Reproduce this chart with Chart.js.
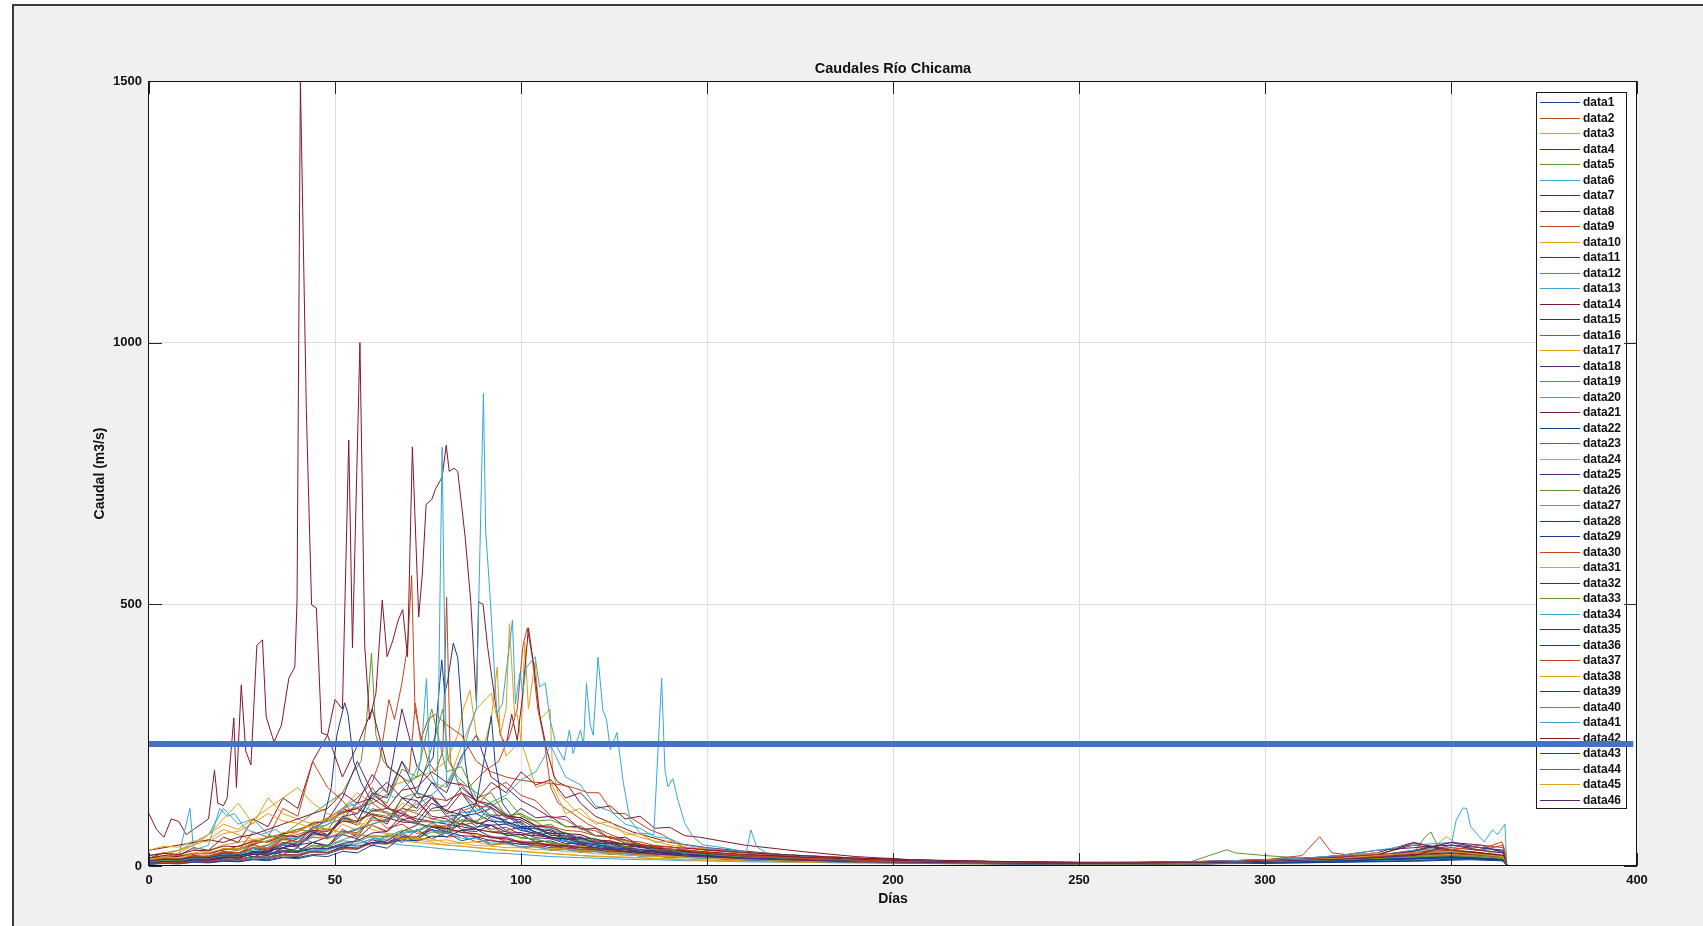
<!DOCTYPE html>
<html lang="es">
<head>
<meta charset="UTF-8">
<title>Caudales Río Chicama</title>
<script src="https://cdn.jsdelivr.net/npm/chart.js@4.4.0/dist/chart.umd.min.js"></script>
<style>
  html, body { margin: 0; padding: 0; background: #fff; width: 1703px; height: 926px; overflow: hidden; }
  .figura { position: absolute; left: 12px; top: 4px; right: 0; bottom: 0; background: #f0f0f0; border-left: 2px solid #3a3a3a; border-top: 2px solid #3a3a3a; }
  #grafico { position: absolute; left: 0; top: 0; }
</style>
</head>
<body>
<div class="figura"></div>
<canvas id="grafico" width="1703" height="926"></canvas>
<script>
const titulo = 'Caudales Río Chicama';
const tituloX = 'Días';
const tituloY = 'Caudal (m3/s)';
const xTicks = [0, 50, 100, 150, 200, 250, 300, 350, 400];
const yTicks = [0, 500, 1000, 1500];
const umbral = 233;

// rejilla de días para las series leídas con menos detalle
const diasLluvia = [0,4,8,12,16,20,24,28,32,36,40,44,48,52,56,60,64,68,72,76,80,84,88,92,96,100,104,108,112,116,120,124,128,132,136,140,144,148];
const diasSeco = [160,175,190,205,220,235,250,265,280,290,300,310,320,330,340,350,358,364,365];
const dias = diasLluvia.concat(diasSeco);

// series con picos grandes: pares [día, caudal]
const d2 = [[0,5],[4,8],[8,10],[12,14],[16,18],[20,20],[24,25],[28,35],[32,40],[36,55],[40,60],[44,70],[48,90],[52,110],[56,130],[60,160],[62,200],[64.5,318],[66,280],[68,350],[69.5,420],[70.6,555],[71.5,300],[73,250],[75,200],[77,180],[79,220],[80,514],[81,200],[83,160],[86,150],[90,180],[94,200],[97,250],[99,300],[100.5,420],[101.7,455],[103,400],[104.5,300],[106,250],[108,150],[110,120],[114,100],[118,80],[124,60],[130,45],[140,30],[150,22],[170,15],[200,9],[240,6],[280,5],[300,8],[320,12],[340,15],[355,25],[363.7,46],[364.5,30],[365,0]];
const d3 = [[0,10],[4,15],[8,20],[12,25],[16,30],[20,40],[24,45],[28,50],[32,55],[36,60],[40,70],[44,80],[48,90],[52,100],[56,110],[60,130],[64,150],[68,160],[72,170],[76,180],[80,200],[83,250],[84.5,300],[86.3,336],[88,250],[90,230],[92,280],[93.6,380],[94.4,250],[96,300],[96.9,463],[98.3,285],[99,290],[100,240],[101,427],[102,300],[103.8,390],[105,280],[106.5,290],[107.8,300],[108.5,180],[110,140],[114,110],[118,90],[122,80],[126,70],[132,55],[140,40],[150,30],[170,20],[200,12],[240,7],[280,6],[290,8],[300,10],[320,15],[340,20],[345,35],[348.8,56],[352,40],[358,30],[364,20],[365,0]];
const d5 = [[0,5],[4,8],[8,10],[12,12],[16,15],[20,20],[24,25],[28,30],[32,40],[36,60],[40,80],[44,100],[48,120],[52,140],[55,180],[57,200],[58.4,270],[59.8,407],[61,250],[63,200],[66,180],[70,160],[74,180],[77,250],[79,300],[80.5,200],[83,170],[86,150],[90,130],[94,110],[98,90],[102,75],[108,60],[114,50],[120,40],[130,30],[140,24],[150,18],[170,13],[190,12],[200,15],[205,10],[240,6],[280,8],[285,20],[289.7,31],[292,25],[300,20],[310,15],[320,12],[330,15],[340,25],[343,55],[344.6,65],[347,30],[352,20],[360,15],[364,12],[365,0]];
const d7 = [[0,100],[2,70],[4,55],[6,90],[8,85],[10,60],[12,70],[14,80],[16,90],[17.6,183],[18.5,120],[20,115],[21,130],[22.8,283],[23.5,150],[24.8,346],[26,220],[27.4,193],[29,422],[30.5,432],[31.5,285],[33.6,237],[35.6,269],[37.6,359],[39.2,380],[39.8,508],[40.7,1500],[42.3,870],[43.7,499],[45,493],[46.4,254],[48,250],[50,318],[52,300],[53.7,814],[54.7,417],[56.7,1000],[58,420],[59.3,280],[61,330],[62.7,508],[64,400],[65.5,430],[67,470],[68.2,490],[69.5,400],[70.8,801],[72.5,476],[73.5,560],[74.5,691],[76,700],[77,720],[78.8,743],[79.9,804],[80.7,754],[82,760],[83,754],[85,628],[86.5,505],[88,313],[88.6,505],[89.8,500],[91,420],[93,317],[94.5,250],[96,230],[97.5,290],[99,240],[100.5,330],[102,455],[103.5,380],[105,290],[107,220],[109,170],[110,160],[113,150],[116,120],[120,95],[125,80],[130,65],[140,45],[150,35],[170,22],[200,12],[230,8],[260,6],[290,8],[310,12],[330,15],[340,20],[350,18],[360,12],[364,10],[365,0]];
const d8 = [[0,6],[4,8],[8,10],[12,12],[16,15],[20,18],[24,22],[28,25],[32,30],[36,35],[40,40],[44,45],[48,55],[52,60],[56,70],[60,80],[64,90],[68,110],[72,140],[74,180],[76.4,208],[78.7,394],[79.5,330],[80.3,354],[81.8,426],[83,398],[84,300],[85,200],[86,150],[88,120],[90,100],[94,90],[98,80],[102,70],[106,60],[110,50],[116,40],[122,32],[130,25],[140,20],[150,16],[170,12],[200,8],[240,5],[280,4],[300,6],[320,8],[340,10],[355,14],[364,12],[365,0]];
const d9 = [[0,15],[5,18],[10,20],[15,25],[20,30],[25,40],[30,50],[35,60],[40,70],[45,80],[50,100],[55,110],[60,120],[65,140],[68,200],[70,180],[71.6,311],[73,240],[75,280],[77,290],[80,270],[84,250],[88,200],[92,180],[96,170],[100,164],[104,160],[108,158],[110.8,155],[114,150],[118,140],[121,140],[124.8,101],[128,100],[130,90],[134.7,69],[138,60],[143.5,36],[150,30],[160,25],[180,18],[200,12],[230,8],[260,6],[290,10],[300,12],[310,20],[314.7,56],[318,25],[330,15],[340,18],[350,20],[360,15],[364,12],[365,0]];
const d15 = [[0,4],[4,6],[8,8],[12,10],[16,12],[20,15],[24,18],[28,22],[32,28],[36,35],[40,45],[44,60],[47,90],[49,150],[50.5,250],[52.6,312],[53.5,290],[55,200],[57,160],[60,120],[64,100],[68,90],[72,80],[76,75],[80,70],[84,80],[88,120],[90,200],[92,287],[93,200],[95,120],[98,90],[102,70],[108,55],[114,45],[120,38],[130,28],[140,22],[150,17],[170,12],[200,8],[240,5],[280,4],[300,5],[320,7],[340,9],[355,12],[364,10],[365,0]];
const d20 = [[0,10],[4,15],[8,20],[11,110],[12,30],[16,40],[19,110],[21,95],[23,100],[26,70],[30,60],[34,70],[38,50],[42,60],[46,80],[50,90],[54,120],[58,100],[62,150],[66,130],[70,160],[73,200],[74.6,359],[75.5,180],[77.5,150],[78.8,800],[80,150],[82,180],[84,140],[88,110],[92,90],[96,80],[100,70],[105,60],[110,50],[120,40],[130,30],[140,25],[150,20],[170,14],[200,10],[240,6],[280,5],[300,8],[320,10],[340,14],[355,20],[364,15],[365,0]];
const d27 = [[0,8],[5,10],[10,12],[15,15],[20,20],[25,25],[30,30],[35,40],[40,45],[45,60],[50,55],[55,70],[60,80],[65,90],[70,110],[75,130],[80,160],[84,200],[86,260],[88,300],[89.9,903],[90.5,640],[91.7,515],[93.5,292],[95,310],[97.7,470],[98.5,310],[99.7,369],[100.5,330],[101.3,378],[103.8,400],[105,342],[106.5,350],[107.8,280],[109.5,230],[111.6,202],[113,260],[114,215],[116,260],[116.8,230],[117.6,349],[118.6,270],[119.4,250],[120.7,399],[122,298],[123,280],[124,222],[125.8,255],[127.5,159],[129.3,88],[132,63],[135.7,60],[137.8,359],[138.7,183],[139.5,151],[140.8,167],[142.2,126],[144,82],[146.3,55],[149,40],[152.6,37],[156,33],[160.6,27],[161.8,69],[163.3,37],[166,25],[170,22],[180,16],[200,12],[230,8],[260,6],[280,6],[300,8],[320,10],[340,15],[348,30],[350,37],[351.4,88],[353.2,111],[354.2,110],[355.3,75],[358.9,46],[361.2,69],[362.5,60],[364.5,80],[365,0]];

// series leídas sobre la rejilla "dias"
const d1 = [8,12,10,15,11,18,25,17,28,22,35,26,40,31,52,38,60,45,70,52,64,48,55,40,46,35,38,30,33,26,28,22,24,19,20,16,17,15, 12,10,8,7,6,5,5,4,4,5,6,7,8,10,12,14,15,12,1];
const d4 = [8,12,10,16,14,24,20,34,28,45,38,65,55,90,120,175,140,300,190,160,125,140,100,110,80,85,62,70,52,56,42,45,36,38,30,28,26,24, 20,16,12,9,7,6,5,5,5,6,8,10,12,15,20,30,25,18,2];
const d6 = [20,25,30,45,60,110,80,90,60,50,55,45,40,50,60,55,45,40,38,35,32,30,28,25,24,22,20,18,17,16,15,14,13,12,12,11,10,10, 8,7,6,5,4,4,3,3,4,5,5,6,8,10,12,14,12,10,1];
const d10 = [10,14,12,20,16,28,24,42,30,50,40,62,52,80,68,100,85,120,110,160,150,230,300,330,210,240,150,160,100,110,80,85,60,62,45,48,36,34, 26,20,15,11,9,7,6,6,7,9,12,15,18,22,28,32,25,18,2];
const d11 = [5,8,6,12,10,18,14,24,20,35,28,45,38,70,55,95,80,130,110,160,140,210,250,170,150,125,110,92,95,70,72,52,55,40,38,30,29,25, 20,15,11,8,6,5,4,4,5,6,8,10,14,20,30,45,40,25,2];
const d12 = [6,10,8,14,12,22,18,34,28,55,45,75,60,95,85,135,120,185,170,300,180,190,130,140,95,100,75,80,58,60,46,48,38,38,30,29,24,22, 18,14,10,8,6,5,4,4,5,6,7,9,10,12,15,18,14,10,1];
const d13 = [3,6,5,9,8,13,12,17,16,22,22,32,31,42,42,52,50,62,66,82,84,102,104,122,135,165,180,230,170,155,115,105,80,72,56,52,40,36, 26,20,14,10,8,6,5,5,6,8,10,12,15,20,30,35,30,25,1];
const d14 = [15,25,20,35,30,55,45,90,75,130,110,200,250,170,230,300,190,170,130,135,100,110,80,88,68,74,58,64,50,54,42,45,36,37,30,31,27,26, 22,18,14,11,9,8,7,7,8,10,12,15,18,22,40,30,25,20,2];
const d16 = [10,14,12,20,18,34,30,65,55,110,95,200,150,125,90,98,72,80,62,68,55,58,46,50,42,44,37,40,33,35,30,31,26,27,22,23,19,19, 16,13,10,8,7,6,5,5,6,8,10,12,14,16,20,24,20,18,1];
const d17 = [15,20,30,40,60,90,120,80,130,100,90,80,70,65,60,55,50,48,45,42,40,38,35,33,30,28,26,24,22,20,19,18,17,16,15,14,13,12, 10,8,7,6,5,4,4,4,5,6,8,10,12,16,22,28,22,18,1];
const d18 = [5,8,6,12,10,17,18,27,28,42,52,72,88,130,200,140,115,88,84,68,66,58,56,48,46,41,40,35,34,29,29,25,25,21,21,18,18,17, 14,11,8,7,6,5,5,5,6,8,10,14,20,25,45,30,22,18,1];
const d19 = [10,12,14,16,20,25,30,40,55,60,70,65,80,90,85,100,95,110,100,90,85,80,70,65,60,55,50,45,40,36,32,30,28,25,23,21,20,18, 15,12,9,7,6,5,4,4,5,7,9,12,15,20,25,30,25,18,1];
const d21 = [6,9,8,13,11,18,15,24,20,34,28,45,38,60,52,78,66,98,85,120,105,140,125,160,140,180,155,165,130,140,110,115,90,95,72,74,58,55, 40,28,18,12,9,7,6,6,7,8,10,12,14,16,20,22,20,18,1];
const d22 = [8,12,10,17,15,25,22,34,30,45,40,65,58,92,85,140,130,200,140,130,95,98,75,78,58,60,46,48,38,39,32,32,27,27,23,23,19,18, 14,11,8,6,5,4,4,4,5,6,7,8,10,12,14,16,14,12,1];
const d23 = [12,16,14,20,18,28,24,40,34,52,46,68,60,88,78,110,100,95,125,90,95,78,84,70,74,60,64,52,54,44,44,36,37,31,31,27,26,24, 18,14,10,8,7,6,5,5,6,8,10,14,18,22,26,30,24,20,2];
const d24 = [20,25,30,40,50,70,60,50,45,55,65,80,90,110,140,120,100,90,80,75,70,65,60,55,50,48,45,42,40,38,35,32,30,28,26,24,22,20, 16,12,9,7,6,5,5,5,6,8,10,14,20,25,22,30,22,16,1];
const d25 = [5,7,6,9,8,12,10,16,14,20,18,28,25,38,33,50,44,60,52,70,62,82,72,95,88,110,92,95,75,76,58,56,44,42,34,31,26,24, 18,14,10,8,6,5,4,4,5,6,8,10,12,15,18,20,18,15,1];
const d26 = [4,6,5,8,7,12,10,18,16,28,25,40,38,65,60,92,85,130,140,105,108,85,86,66,66,53,52,43,42,34,33,29,27,24,22,20,18,16, 12,9,7,6,5,4,4,4,5,6,8,10,12,14,16,18,16,14,1];
const d28 = [30,35,40,45,50,45,55,60,70,80,90,100,110,140,120,130,110,100,90,85,80,75,70,65,62,60,58,55,52,50,48,45,42,40,38,36,34,32, 26,20,15,12,10,8,7,7,8,10,12,14,16,20,25,28,24,20,2];
const d29 = [3,5,4,7,6,9,8,12,10,16,14,20,18,28,25,40,34,55,48,75,65,110,120,95,98,75,76,58,58,46,46,37,37,30,29,24,22,20, 15,11,8,6,5,4,3,3,4,5,6,8,10,12,14,16,14,12,1];
const d30 = [8,12,10,16,14,24,20,36,30,52,46,75,68,110,100,150,110,105,85,84,66,68,56,57,47,47,40,41,36,36,31,31,27,27,23,23,20,18, 14,11,8,7,6,5,4,4,5,7,9,12,15,18,20,22,20,16,1];
const d31 = [10,15,25,40,60,80,70,90,110,130,150,120,100,90,80,70,60,55,50,45,40,38,35,32,30,28,26,24,22,20,18,17,16,15,14,13,12,11, 9,7,6,5,4,4,3,3,4,5,7,9,12,15,18,20,18,14,1];
const d32 = [6,9,8,14,12,19,17,28,25,40,36,62,58,95,100,135,160,130,125,95,90,70,70,55,55,45,46,38,38,31,31,27,27,23,23,19,18,16, 12,9,7,6,5,4,4,4,5,7,10,14,20,30,35,40,35,28,2];
const d33 = [5,7,6,9,8,12,11,16,15,20,19,27,26,36,34,45,42,55,52,65,62,88,84,115,130,95,85,66,64,50,48,38,37,29,27,22,21,18, 13,10,8,6,5,5,4,4,5,6,8,10,12,14,16,18,16,13,1];
const d34 = [4,6,5,8,8,12,11,16,15,22,22,30,30,40,42,52,54,64,68,82,86,102,106,120,95,92,76,72,58,52,42,40,32,30,25,23,21,19, 15,12,10,8,7,6,5,6,8,10,12,15,20,30,40,45,35,30,1];
const d35 = [15,20,18,24,23,32,33,42,48,62,66,82,86,102,110,98,92,84,82,74,72,64,62,54,52,44,43,40,39,35,35,31,31,27,27,23,22,20, 16,12,9,7,6,5,5,5,6,8,10,12,16,20,44,30,25,20,2];
const d36 = [6,8,7,10,9,14,13,18,17,22,21,28,26,36,34,45,43,56,55,75,72,95,100,85,84,72,72,62,62,52,52,43,42,35,34,27,26,22, 16,12,9,7,6,5,4,4,5,6,7,9,11,13,15,18,15,13,1];
const d37 = [10,14,12,18,17,27,25,35,33,44,42,55,52,66,64,88,85,110,105,130,125,140,115,112,95,92,78,76,68,66,58,56,48,46,39,37,31,28, 20,15,11,9,7,6,5,5,6,8,10,12,15,18,25,35,30,40,2];
const d38 = [30,38,36,48,46,62,66,82,100,86,82,72,72,62,62,56,58,52,54,48,50,44,46,40,42,36,38,33,33,29,29,25,25,21,21,19,18,17, 14,11,8,7,6,5,4,4,5,6,8,10,12,15,18,22,18,15,1];
const d39 = [4,6,5,8,7,10,9,13,12,17,16,22,23,33,32,45,48,66,78,110,115,150,125,112,92,88,72,67,56,54,44,42,34,32,27,26,22,20, 15,11,8,6,5,4,4,4,5,7,9,12,16,20,28,45,35,30,2];
const d40 = [8,11,10,15,14,19,18,24,23,30,29,38,37,48,46,58,56,68,66,78,76,88,86,98,96,100,86,88,76,72,58,54,44,41,34,31,25,23, 17,13,10,8,6,5,5,5,6,7,9,11,13,15,18,20,18,15,1];
const d41 = [6,10,8,14,13,22,20,34,36,55,52,75,78,110,120,105,104,86,84,68,64,53,52,44,43,37,36,31,31,27,27,23,23,19,19,16,16,15, 12,9,7,6,5,4,4,4,5,6,8,10,14,18,22,26,22,18,1];
const d42 = [20,24,22,30,29,38,37,48,46,58,56,68,66,85,84,105,110,145,150,180,160,155,125,118,96,92,76,74,62,60,50,48,41,39,34,33,29,28, 22,17,13,10,8,7,6,6,7,8,10,12,14,18,22,25,22,18,2];
const d43 = [10,13,12,17,16,21,20,25,24,29,28,34,33,40,38,44,43,50,48,57,56,68,66,78,80,68,62,54,52,44,41,35,33,28,27,23,22,20, 15,12,9,7,6,5,4,4,5,6,7,8,10,12,14,16,14,12,1];
const d44 = [5,7,6,9,9,13,13,17,17,22,21,27,26,34,34,43,42,54,56,75,76,105,115,145,160,135,125,95,88,72,67,53,50,41,38,32,31,27, 20,15,11,8,6,5,5,5,6,8,10,12,14,18,25,30,40,35,2];
const d45 = [12,17,16,24,25,33,33,44,48,64,66,84,86,100,82,78,62,62,52,52,44,43,39,38,35,35,31,31,27,27,23,23,20,20,18,18,16,16, 13,10,8,7,6,5,4,4,5,7,9,12,15,20,25,28,22,18,1];
const d46 = [6,9,8,13,13,17,17,22,21,27,26,34,34,43,48,63,66,88,95,130,105,98,82,78,65,64,54,52,43,42,35,33,28,27,23,22,19,18, 14,11,8,7,6,5,5,5,6,7,9,11,13,16,20,40,30,25,1];

const series = [d1,d2,d3,d4,d5,d6,d7,d8,d9,d10,d11,d12,d13,d14,d15,d16,d17,d18,d19,d20,d21,d22,d23,d24,d25,d26,d27,d28,d29,d30,d31,d32,d33,d34,d35,d36,d37,d38,d39,d40,d41,d42,d43,d44,d45,d46];
const nombres = series.map((s, i) => 'data' + (i + 1));
const colores = ['#143f8e', '#c9421a', '#e0a01a', '#582470', '#5c962b', '#36a8d6', '#84172b'];

const fuente = '"Liberation Sans", Arial, Helvetica, sans-serif';
const tinta = '#111111';

function aPuntos(s) {
    if (Array.isArray(s[0])) return s.map(p => ({ x: p[0], y: p[1] }));
    return s.map((v, i) => ({ x: dias[i], y: v }));
}

const datasets = series.map((s, i) => ({
    label: nombres[i],
    data: aPuntos(s),
    borderColor: colores[i % 7],
    borderWidth: 1,
    order: -i
}));
datasets.push({
    label: 'umbral',
    data: [{ x: 0, y: umbral }, { x: 399, y: umbral }],
    borderColor: '#4472c4',
    borderWidth: 6,
    order: -1000,
    esUmbral: true
});

function dibujarLeyenda(chart) {
    const { ctx, chartArea: a } = chart;
    const fila = 15.5;
    const ancho = 90;
    const alto = nombres.length * fila + 3;
    const x0 = a.right - 11 - ancho;
    const y0 = a.top + 11;
    ctx.save();
    ctx.fillStyle = '#ffffff';
    ctx.fillRect(x0, y0, ancho, alto);
    ctx.strokeStyle = '#1a1a1a';
    ctx.lineWidth = 1;
    ctx.strokeRect(x0 + 0.5, y0 + 0.5, ancho, alto);
    ctx.font = 'bold 12px ' + fuente;
    ctx.textBaseline = 'middle';
    ctx.textAlign = 'left';
    nombres.forEach((n, i) => {
        const y = Math.round(y0 + 10.3 + i * fila) + 0.5;
        ctx.strokeStyle = colores[i % 7];
        ctx.beginPath();
        ctx.moveTo(x0 + 4, y);
        ctx.lineTo(x0 + 44, y);
        ctx.stroke();
        ctx.fillStyle = tinta;
        ctx.fillText(n, x0 + 47, y);
    });
    ctx.restore();
}

const cajaEjes = {
    id: 'cajaEjes',
    beforeDraw(chart) {
        const { ctx, chartArea: a } = chart;
        ctx.save();
        ctx.fillStyle = '#ffffff';
        ctx.fillRect(a.left, a.top, a.right - a.left, a.bottom - a.top);
        ctx.restore();
    },
    beforeDatasetDraw(chart, args) {
        if (chart.data.datasets[args.index].esUmbral) dibujarLeyenda(chart);
    },
    afterDraw(chart) {
        const { ctx, chartArea: a, scales } = chart;
        const largo = 13;
        ctx.save();
        ctx.strokeStyle = '#262626';
        ctx.lineWidth = 1;
        ctx.beginPath();
        xTicks.forEach(v => {
            const px = Math.round(scales.x.getPixelForValue(v)) + 0.5;
            ctx.moveTo(px, a.bottom); ctx.lineTo(px, a.bottom - largo);
            ctx.moveTo(px, a.top); ctx.lineTo(px, a.top + largo);
        });
        yTicks.forEach(v => {
            const py = Math.round(scales.y.getPixelForValue(v)) + 0.5;
            ctx.moveTo(a.left, py); ctx.lineTo(a.left + largo, py);
            ctx.moveTo(a.right, py); ctx.lineTo(a.right - largo, py);
        });
        ctx.stroke();
        ctx.strokeStyle = '#111111';
        ctx.strokeRect(Math.round(a.left) - 0.5, Math.round(a.top) + 0.5, Math.round(a.right - a.left), Math.round(a.bottom - a.top) - 1);
        ctx.restore();
    }
};

const rejilla = (lim) => (c) => (c.tick && (c.tick.value === lim[0] || c.tick.value === lim[1])) ? 'rgba(0,0,0,0)' : '#dedede';

new Chart(document.getElementById('grafico'), {
    type: 'line',
    data: { datasets },
    options: {
        responsive: false,
        animation: false,
        devicePixelRatio: 1,
        layout: { padding: { left: 0, right: 66, top: 0, bottom: 0 } },
        elements: { point: { radius: 0 }, line: { tension: 0 } },
        plugins: {
            legend: { display: false },
            tooltip: { enabled: false },
            title: {
                display: true,
                fullSize: false,
                text: titulo,
                color: tinta,
                font: { family: fuente, size: 14.5, weight: 'bold', lineHeight: 1.2 },
                padding: { top: 60, bottom: 3.6 }
            }
        },
        scales: {
            x: {
                type: 'linear',
                min: 0,
                max: 400,
                afterBuildTicks: s => { s.ticks = xTicks.map(v => ({ value: v })); },
                afterFit: s => { s.height = 60; },
                grid: { color: rejilla([0, 400]), drawTicks: false },
                border: { display: false },
                ticks: { padding: 7, color: tinta, font: { family: fuente, size: 13, weight: 'bold' }, callback: v => String(v), maxRotation: 0 },
                title: { display: true, text: tituloX, color: tinta, font: { family: fuente, size: 14, weight: 'bold', lineHeight: 1.2 }, padding: { top: 0, bottom: 18.6 } }
            },
            y: {
                min: 0,
                max: 1500,
                afterBuildTicks: s => { s.ticks = yTicks.map(v => ({ value: v })); },
                afterFit: s => { s.width = 149; },
                grid: { color: rejilla([0, 1500]), drawTicks: false },
                border: { display: false },
                ticks: { padding: 7, color: tinta, font: { family: fuente, size: 13, weight: 'bold' }, callback: v => String(v) },
                title: { display: true, text: tituloY, color: tinta, font: { family: fuente, size: 14, weight: 'bold', lineHeight: 1.2 }, padding: { top: 91.6, bottom: 0 } }
            }
        }
    },
    plugins: [cajaEjes]
});
</script>
</body>
</html>
